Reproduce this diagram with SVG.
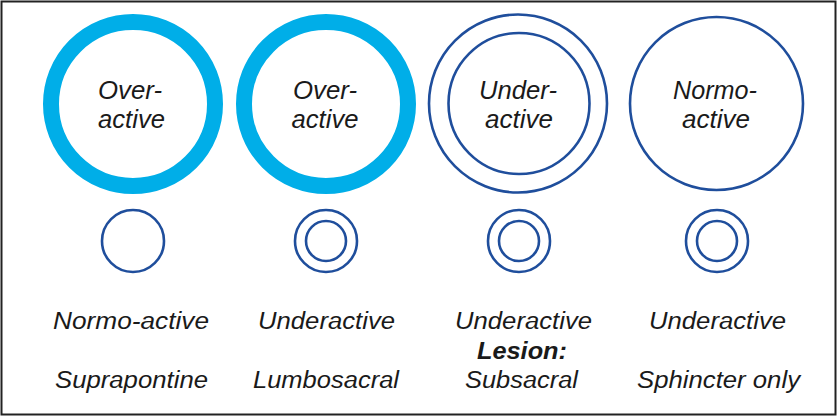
<svg xmlns="http://www.w3.org/2000/svg" width="840" height="418" viewBox="0 0 840 418">
<style>
.frame{fill:#fff;stroke:#222;stroke-width:2}
.cy{fill:none;stroke:#00aee8;stroke-width:16}
.bl{fill:none;stroke:#1f4e9c;stroke-width:2.6}
.t{font-family:"Liberation Sans",Arial,sans-serif;font-style:italic;fill:#1a1a1a;text-anchor:middle}
.big{font-size:25px}
.lab{font-size:23px}
.b{font-weight:bold}
</style>
<rect x="0" y="0" width="840" height="418" fill="#fff"/>
<rect class="frame" x="1.5" y="1.5" width="834" height="413"/>
<g id="connectors"/>
<g id="node-1">
<circle class="cy" cx="133" cy="104" r="82"/>
<text class="t big" x="130" y="99" textLength="64" lengthAdjust="spacingAndGlyphs">Over-</text>
<text class="t big" x="131.5" y="128" textLength="67" lengthAdjust="spacingAndGlyphs">active</text>
<circle class="bl" cx="133" cy="241" r="31"/>
<text class="t lab" x="131" y="329" textLength="156" lengthAdjust="spacingAndGlyphs">Normo-active</text>
<text class="t lab" x="131.5" y="388" textLength="153" lengthAdjust="spacingAndGlyphs">Suprapontine</text>
</g>
<g id="node-2">
<circle class="cy" cx="326" cy="104" r="82"/>
<text class="t big" x="325" y="99" textLength="64" lengthAdjust="spacingAndGlyphs">Over-</text>
<text class="t big" x="325" y="128" textLength="67" lengthAdjust="spacingAndGlyphs">active</text>
<circle class="bl" cx="326" cy="241" r="31"/>
<circle class="bl" cx="326" cy="241" r="20"/>
<text class="t lab" x="326.5" y="329" textLength="137" lengthAdjust="spacingAndGlyphs">Underactive</text>
<text class="t lab" x="326" y="388" textLength="146" lengthAdjust="spacingAndGlyphs">Lumbosacral</text>
</g>
<g id="node-3">
<circle class="bl" cx="518" cy="103.5" r="89"/>
<circle class="bl" cx="519" cy="103.5" r="70.5"/>
<text class="t big" x="518" y="99" textLength="78" lengthAdjust="spacingAndGlyphs">Under-</text>
<text class="t big" x="519" y="128" textLength="68" lengthAdjust="spacingAndGlyphs">active</text>
<circle class="bl" cx="519" cy="241" r="31"/>
<circle class="bl" cx="519" cy="241" r="20"/>
<text class="t lab" x="523.5" y="329" textLength="137" lengthAdjust="spacingAndGlyphs">Underactive</text>
<text class="t lab b" x="522" y="359" textLength="90" lengthAdjust="spacingAndGlyphs">Lesion:</text>
<text class="t lab" x="521.5" y="388" textLength="113" lengthAdjust="spacingAndGlyphs">Subsacral</text>
</g>
<g id="node-4">
<circle class="bl" cx="716.5" cy="103.5" r="86.5"/>
<text class="t big" x="715" y="99" textLength="84" lengthAdjust="spacingAndGlyphs">Normo-</text>
<text class="t big" x="716" y="128" textLength="68" lengthAdjust="spacingAndGlyphs">active</text>
<circle class="bl" cx="717" cy="241" r="31"/>
<circle class="bl" cx="717" cy="241" r="20"/>
<text class="t lab" x="717.5" y="329" textLength="137" lengthAdjust="spacingAndGlyphs">Underactive</text>
<text class="t lab" x="718.5" y="388" textLength="163" lengthAdjust="spacingAndGlyphs">Sphincter only</text>
</g>
</svg>
